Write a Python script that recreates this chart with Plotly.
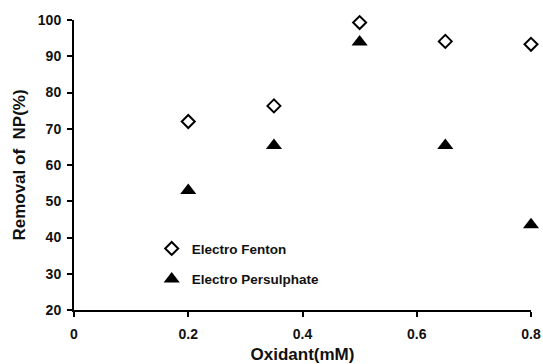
import plotly.graph_objects as go

oxidant = [0.2, 0.35, 0.5, 0.65, 0.8]
fenton = [72.0, 76.3, 99.3, 94.1, 93.3]
persulphate = [53.0, 65.4, 93.9, 65.4, 43.5]

fig = go.Figure()
fig.add_trace(go.Scatter(
    x=oxidant, y=fenton, mode="markers", name="Electro Fenton",
    legendgroup="a",
    marker=dict(symbol="diamond-open", size=10, color="black", line=dict(width=2, color="black")),
))
fig.add_trace(go.Scatter(
    x=oxidant, y=persulphate, mode="markers", name="Electro Persulphate",
    legendgroup="b",
    marker=dict(symbol="triangle-up", size=14, color="black"),
))

font_family = "Liberation Sans, Arial"
fig.update_layout(
    width=543, height=364,
    margin=dict(l=74, r=12, t=20, b=54),
    plot_bgcolor="white", paper_bgcolor="white",
    font=dict(family=font_family, size=13, color="#111111"),
    showlegend=True,
    legend=dict(
        x=0.17, y=0.265, xanchor="left", yanchor="top",
        bgcolor="rgba(0,0,0,0)", traceorder="grouped", tracegroupgap=10,
        font=dict(size=13.5, family=font_family, weight="bold"),
        itemwidth=30,
    ),
    xaxis=dict(
        range=[0, 0.8], tickvals=[0, 0.2, 0.4, 0.6, 0.8], ticktext=["0", "0.2", "0.4", "0.6", "0.8"],
        showgrid=False, zeroline=False, showline=True, linecolor="black", linewidth=2,
        ticks="outside", ticklen=5, tickwidth=2, tickcolor="black",
        tickfont=dict(size=14, weight="bold"), ticklabelstandoff=5,
        title=dict(text="Oxidant(mM)", font=dict(size=17, weight="bold"), standoff=10),
        automargin=False,
    ),
    yaxis=dict(
        range=[20, 100], tickvals=[20, 30, 40, 50, 60, 70, 80, 90, 100],
        showgrid=False, zeroline=False, showline=True, linecolor="black", linewidth=2,
        ticks="outside", ticklen=5, tickwidth=2, tickcolor="black",
        tickfont=dict(size=14, weight="bold"), ticklabelstandoff=3,
        title=dict(text="Removal of  NP(%)", font=dict(size=17, weight="bold"), standoff=8),
        automargin=False,
    ),
)
fig.update_traces(cliponaxis=False)

fig.write_html("out.html")
